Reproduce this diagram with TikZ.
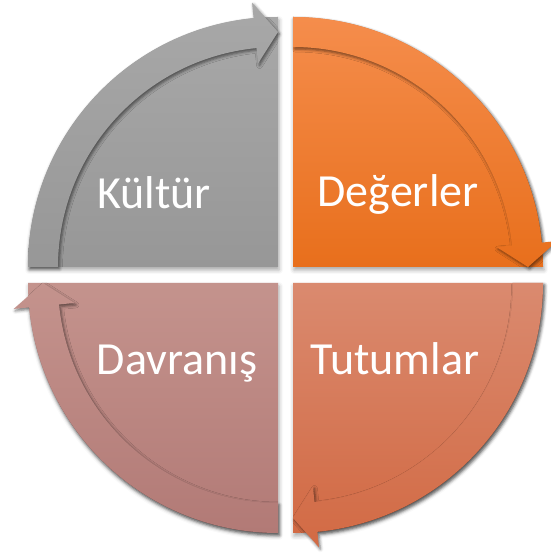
\documentclass[tikz,border=0pt]{standalone}
\usepackage{fontspec}
\setmainfont{Carlito}
\usepackage{tikz}
\usetikzlibrary{shadows.blur}

\definecolor{kulturTop}{HTML}{A8A8A8}
\definecolor{kulturBot}{HTML}{979797}
\definecolor{degerTop}{HTML}{F58D4C}
\definecolor{degerBot}{HTML}{E86F1C}
\definecolor{tutumTop}{HTML}{DA8A6F}
\definecolor{tutumBot}{HTML}{D26A44}
\definecolor{davraTop}{HTML}{C4938D}
\definecolor{davraBot}{HTML}{B27A76}

\begin{document}
\begin{tikzpicture}[x=1pt, y=1pt,
    quarter/.style={blur shadow={shadow xshift=1pt, shadow yshift=-3pt, shadow blur radius=4pt, shadow opacity=35}},
    band/.style={blur shadow={shadow xshift=1.5pt, shadow yshift=-2pt, shadow blur radius=3pt, shadow opacity=55}},
    qtext/.style={text=white, font=\fontsize{46}{56}\selectfont, anchor=base}]
    \useasboundingbox (0,0) rectangle (551,560);
    % quarters, each with its arrow running clockwise along the rim
    \foreach \cx/\cy/\s/\ctop/\cbot in {278/293/90/kulturTop/kulturBot,
                                        293/293/0/degerTop/degerBot,
                                        293/277/-90/tutumTop/tutumBot,
                                        278/277/-180/davraTop/davraBot}{
        \pgfmathsetmacro{\sEnd}{\s+90}
        \pgfmathsetmacro{\sHead}{\s+5.6}
        \begin{scope}[shift={(\cx,\cy)}]
            \path[quarter, top color=\ctop, bottom color=\cbot]
                (0,0) -- (\s:250) arc[start angle=\s, end angle=\sEnd, radius=250] -- cycle;
            \path[band, top color=\ctop, bottom color=\cbot]
                (\sEnd:250) arc[start angle=\sEnd, end angle=\sHead, radius=250]
                -- (\sHead:265.5) -- (\s:235) -- (\sHead:204.5) -- (\sHead:220)
                arc[start angle=\sHead, end angle=\sEnd, radius=220] -- cycle;
        \end{scope}
    }
    \node[qtext] (kultur) at (154,351) {Kültür};
    \node[qtext] (degerler) at (398,353) {Değerler};
    \node[qtext] (davranis) at (177,185) {Davranış};
    \node[qtext] (tutumlar) at (395,185) {Tutumlar};
\end{tikzpicture}
\end{document}
